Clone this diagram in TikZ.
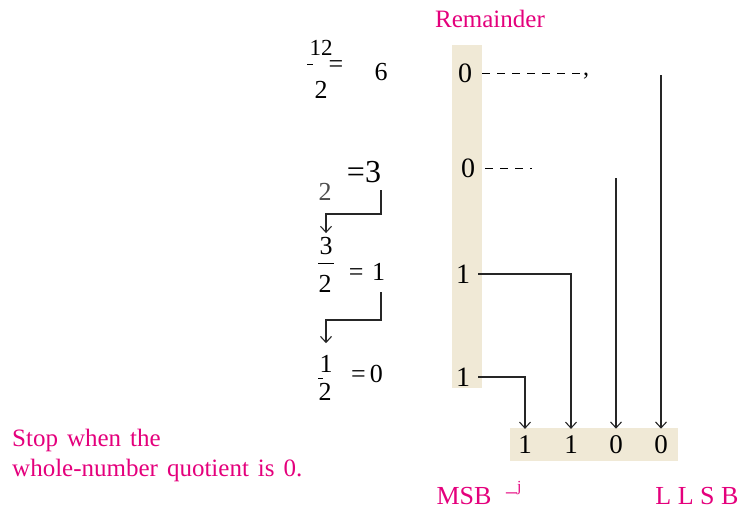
\documentclass[tikz,border=0pt]{standalone}
\usepackage{fontspec}
\setmainfont{Liberation Serif}
\usetikzlibrary{arrows.meta}
\definecolor{rempink}{RGB}{228,0,124}
\definecolor{rembeige}{RGB}{240,233,214}
\newcommand{\bit}[3]{\node[bitnode] (#1) at (#2) {#3}}
\newcommand{\widesp}{\spaceskip=9pt plus 1pt\relax}

\begin{document}
\begin{tikzpicture}[x=1pt,y=-1pt,
	bitnode/.style={inner sep=0pt,font=\fontsize{28}{28}\selectfont},
	outbit/.style={inner xsep=0pt,inner ysep=7pt,font=\fontsize{27}{27}\selectfont},
	divtext/.style={inner sep=0pt,font=\fontsize{26}{26}\selectfont},
	pinktext/.style={inner sep=0pt,text=rempink,font=\fontsize{25}{30}\selectfont},
	link/.style={line width=1.1pt,black!85},
	>={Straight Barb[length=6pt,width=11pt]}]
\useasboundingbox (0,0) rectangle (744,514);
\fill[rembeige] (452,45) rectangle (482,388);
\fill[rembeige] (510,428) rectangle (678,461);
\node[pinktext] (rem) at (490,19) {Remainder};
%
	\bit{r1}{465,73}{0};
	\bit{r2}{468,168}{0};
	\bit{r3}{463,274}{1};
	\bit{r4}{463,377}{1};
	\node[outbit] (b1) at (525,445) {1};
	\node[outbit] (b2) at (571,445) {1};
	\node[outbit] (b3) at (616,445) {0};
	\node[outbit] (b4) at (661,445) {0};
%
\node[inner sep=0pt,font=\fontsize{24}{24}\selectfont] (cm) at (586,76) {,};
\draw[dashed,dash pattern=on 8pt off 7pt,line width=1pt] ([xshift=10pt]r1.east) -- (r1.east -| cm.west);
\coordinate (d2) at (532,168);
\draw[dashed,dash pattern=on 8pt off 7pt,line width=1pt] ([xshift=10pt]r2.east) -- (d2);
	\coordinate (t4) at (661,75);
	\coordinate (t3) at (616,178);
	\draw[link,->] (t4) -- (b4);
	\draw[link,->] (t3) -- (b3);
	\draw[link,->] ([xshift=8pt]r3.east) -| (b2);
	\draw[link,->] ([xshift=8pt]r4.east) -| (b1);
%
\node[divtext,font=\fontsize{23}{23}\selectfont] (n12) at (321,48) {12};
\node[divtext] (eq12) at (336,67) {=};
\node[divtext] (d12) at (321,90) {2};
\node[divtext] (q6) at (381,72) {6};
\draw[line width=0.8pt] (307,64) -- (313,64);
%
\node[divtext,font=\fontsize{32}{32}\selectfont] (eq3) at (364,172) {=3};
\node[divtext,text=black!70] (d6) at (325,192) {2};
%
\node[divtext] (n3) at (326,246) {3};
\draw[line width=1pt] (318,263) -- (334,263);
\node[divtext] (d3) at (325,284) {2};
\node[divtext] (eq1) at (367,272) {=\,\,1};
%
\node[divtext] (n1) at (326,364) {1};
\draw[line width=0.8pt] (318,378) -- (323,378);
\node[divtext] (d1) at (325,392) {2};
\node[divtext] (eq0) at (367,374) {=\,0};
%
	\coordinate (k0) at (381,190);
	\coordinate (k1) at (381,214);
	\draw[link,->] (k0) -- (k1) -| ([yshift=4pt]n3.north);
	\coordinate (k2) at (381,292);
	\coordinate (k3) at (381,320);
	\draw[link,->] (k2) -- (k3) -| ([yshift=12pt]n1.north);
%
\node[pinktext,anchor=west,align=left] (stop) at (12,455) {\widesp Stop when the\\\widesp whole-number quotient is 0.};
\node[pinktext,font=\fontsize{26}{26}\selectfont] (msb) at (464,496) {MSB};
\node[pinktext,font=\fontsize{22}{22}\selectfont] (msbj) at (514,490) {–\textsuperscript{j}};
\node[pinktext,font=\fontsize{26}{26}\selectfont] (lsb) at (697,496) {L L S B};
\end{tikzpicture}
\end{document}
